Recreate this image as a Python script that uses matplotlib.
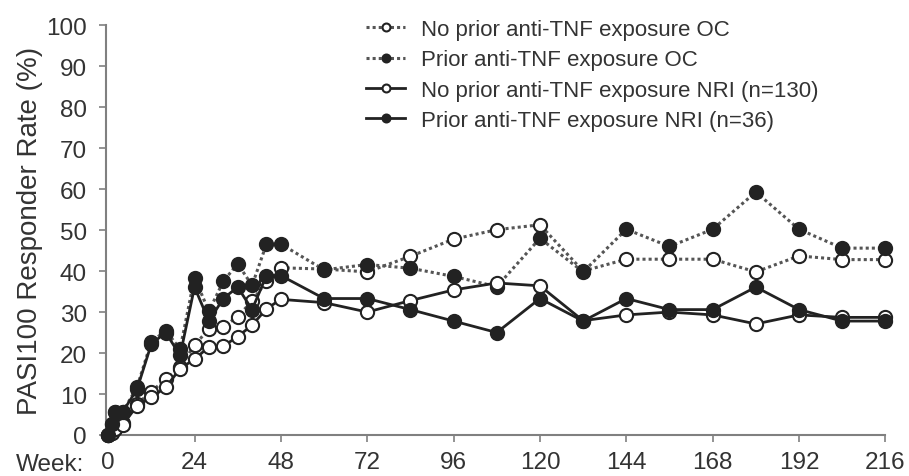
import matplotlib.pyplot as plt

plt.rcParams['font.family'] = ['Liberation Sans', 'DejaVu Sans']

# weeks of assessment
weeks = [0, 1, 2, 4, 8, 12, 16, 20, 24, 28, 32, 36, 40, 44, 48,
         60, 72, 84, 96, 108, 120, 132, 144, 156, 168, 180, 192, 204, 216]

# PASI100 responder rate (%)
no_prior_oc = [0, 0.5, 1.5, 3, 7.5, 10.6, 13.6, 16.5, 22, 25.8, 26.4, 28.9, 32.7, 37.5, 40.8,
               40.5, 39.8, 43.6, 47.8, 50.1, 51.3, 40, 42.9, 42.9, 42.9, 39.8, 43.7, 42.8, 42.8]
prior_oc = [0, 2.8, 5.6, 5.6, 11.6, 22.8, 25.4, 21, 38.4, 30.2, 37.5, 41.8, 36.5, 46.6, 46.6,
            40.3, 41.6, 40.7, 38.7, 36.2, 48, 39.8, 50.2, 46, 50.2, 59.3, 50.2, 45.6, 45.6]
no_prior_nri = [0, 0.5, 1.5, 2.4, 7.1, 9.2, 11.6, 16.2, 18.5, 21.5, 21.7, 24, 26.8, 30.8, 33.1,
                32.3, 30, 32.8, 35.4, 37.1, 36.4, 27.9, 29.3, 30, 29.3, 27.1, 29.3, 28.7, 28.7]
prior_nri = [0, 2.8, 5.6, 5.6, 11.1, 22.2, 25, 19.4, 36.1, 27.8, 33.3, 36.1, 30.6, 38.9, 38.9,
             33.3, 33.3, 30.6, 27.8, 25, 33.3, 27.8, 33.3, 30.6, 30.6, 36.1, 30.6, 27.8, 27.8]

labels = ['No prior anti-TNF exposure OC',
          'Prior anti-TNF exposure OC',
          'No prior anti-TNF exposure NRI (n=130)',
          'Prior anti-TNF exposure NRI (n=36)']

dark = '#222222'
txt = '#333333'
axis_col = '#808080'

fig = plt.figure(figsize=(9.09, 4.77), dpi=100)
ax = fig.add_axes([0.117, 0.086, 0.857, 0.859])

common = dict(markersize=9.5, markeredgewidth=1.5, markeredgecolor=dark, clip_on=False)
ax.plot(weeks, no_prior_oc, linestyle=(0, (1, 1)), color='#555555', lw=2.2,
        marker='o', markerfacecolor='white', label=labels[0], zorder=3, **common)
ax.plot(weeks, prior_oc, linestyle=(0, (1, 1)), color='#555555', lw=2.2,
        marker='o', markerfacecolor=dark, label=labels[1], zorder=3, **common)
ax.plot(weeks, no_prior_nri, linestyle='-', color=dark, lw=2,
        marker='o', markerfacecolor='white', label=labels[2], zorder=4, **common)
ax.plot(weeks, prior_nri, linestyle='-', color=dark, lw=2,
        marker='o', markerfacecolor=dark, label=labels[3], zorder=4, **common)

ax.set_xlim(-0.5, 216)
ax.set_ylim(0, 100)
ax.set_xticks(range(0, 217, 24))
ax.set_yticks(range(0, 101, 10))

for s in ['top', 'right']:
    ax.spines[s].set_visible(False)
for s in ['left', 'bottom']:
    ax.spines[s].set_color(axis_col)
    ax.spines[s].set_linewidth(1.5)
ax.tick_params(colors=axis_col, labelcolor=txt, labelsize=17.5, length=5, width=1.2)
ax.tick_params(axis='y', pad=9)
ax.tick_params(axis='x', pad=6.5)

ax.set_ylabel('PASI100 Responder Rate (%)', fontsize=20, color=txt, labelpad=2)
fig.text(0.017, 0.012, 'Week:', fontsize=17.5, color=txt, ha='left', va='baseline')

leg = ax.legend(loc='upper left', bbox_to_anchor=(0.403, 0.958),
                bbox_transform=fig.transFigure, frameon=False, fontsize=16,
                handlelength=1.75, handletextpad=0.7, labelspacing=0.42,
                borderpad=0, borderaxespad=0, markerscale=0.6)
for t in leg.get_texts():
    t.set_color(txt)

fig.savefig('out.png', dpi=100)
